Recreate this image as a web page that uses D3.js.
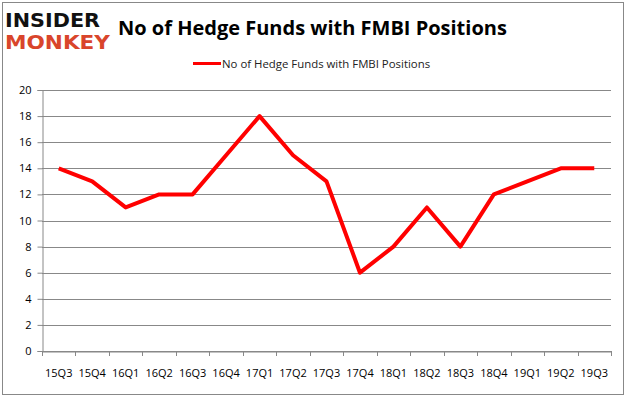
<!DOCTYPE html>
<html>
<head>
<meta charset="utf-8">
<script src="https://cdn.jsdelivr.net/npm/d3@7"></script>
<style>
  body { margin: 0; background: #fff; }
  text { font-family: "Open Sans", "DejaVu Sans", sans-serif; }
</style>
</head>
<body>
<div id="chart"></div>
<script>
// Quarter labels and hedge fund counts
const quarters = ["15Q3","15Q4","16Q1","16Q2","16Q3","16Q4","17Q1","17Q2","17Q3","17Q4","18Q1","18Q2","18Q3","18Q4","19Q1","19Q2","19Q3"];
const funds = [14,13,11,12,12,15,18,15,13,6,8,11,8,12,13,14,14];
const yTicks = [0,2,4,6,8,10,12,14,16,18,20];

const W = 626, H = 397;
const margin = {top: 90, right: 15, bottom: 46, left: 42};

const svg = d3.select("#chart").append("svg")
    .attr("width", W)
    .attr("height", H);

// outer border
svg.append("rect")
    .attr("x", 2.5).attr("y", 2.5)
    .attr("width", W - 5).attr("height", H - 5)
    .attr("fill", "none")
    .attr("stroke", "#888")
    .attr("stroke-width", 1);

const x = d3.scaleBand()
    .domain(quarters)
    .range([margin.left, W - margin.right]);

const y = d3.scaleLinear()
    .domain([0, 20])
    .range([H - margin.bottom, margin.top]);

// gridlines
svg.append("g")
    .selectAll("line")
    .data(yTicks)
    .enter().append("line")
    .attr("x1", margin.left)
    .attr("x2", W - margin.right)
    .attr("y1", d => Math.round(y(d)) + 0.5)
    .attr("y2", d => Math.round(y(d)) + 0.5)
    .attr("stroke", "#888")
    .attr("stroke-width", 1);

// y axis
const yAxis = svg.append("g")
    .attr("transform", "translate(" + (margin.left + 0.5) + ",0)")
    .call(d3.axisLeft(y).tickValues(yTicks).tickSize(5).tickPadding(6));
yAxis.select(".domain").attr("stroke", "#888");
yAxis.selectAll(".tick line").attr("stroke", "#888");
yAxis.selectAll("text").attr("font-size", 11).attr("fill", "#000")
    .style("font-family", "'Open Sans', sans-serif");

// x axis
const xAxis = svg.append("g")
    .attr("transform", "translate(0," + (Math.round(y(0)) + 0.5) + ")")
    .call(d3.axisBottom(x).tickSize(0).tickPadding(18));
xAxis.select(".domain").attr("stroke", "#888");
xAxis.selectAll("text").attr("font-size", 11).attr("fill", "#000")
    .style("font-family", "'Open Sans', sans-serif");

// x tick marks at band edges
svg.append("g")
    .selectAll("line")
    .data(quarters.concat(["end"]))
    .enter().append("line")
    .attr("x1", (d, i) => Math.round(margin.left + i * x.step()) + 0.5)
    .attr("x2", (d, i) => Math.round(margin.left + i * x.step()) + 0.5)
    .attr("y1", Math.round(y(0)))
    .attr("y2", Math.round(y(0)) + 5)
    .attr("stroke", "#888");

// the line
const line = d3.line()
    .x((d, i) => x(quarters[i]) + x.bandwidth() / 2)
    .y(d => y(d));

svg.append("path")
    .datum(funds)
    .attr("d", line)
    .attr("fill", "none")
    .attr("stroke", "#ff0000")
    .attr("stroke-width", 4)
    .attr("stroke-linejoin", "round");

// title
svg.append("text")
    .attr("x", 118)
    .attr("y", 35)
    .attr("font-size", 20)
    .attr("font-weight", "bold")
    .attr("fill", "#000")
    .text("No of Hedge Funds with FMBI Positions");

// legend
svg.append("line")
    .attr("x1", 193).attr("x2", 221)
    .attr("y1", 63.5).attr("y2", 63.5)
    .attr("stroke", "#ff0000")
    .attr("stroke-width", 3);
svg.append("text")
    .attr("x", 222)
    .attr("y", 67.5)
    .attr("font-size", 11.4)
    .attr("fill", "#222")
    .text("No of Hedge Funds with FMBI Positions");

// logo
svg.append("text")
    .attr("x", 5).attr("y", 27)
    .attr("font-size", 20)
    .attr("font-weight", "bold")
    .attr("textLength", 95)
    .attr("lengthAdjust", "spacingAndGlyphs")
    .style("font-family", "'DejaVu Sans', sans-serif")
    .attr("fill", "#111")
    .text("INSIDER");
svg.append("text")
    .attr("x", 5).attr("y", 49)
    .attr("font-size", 20)
    .attr("font-weight", "bold")
    .attr("textLength", 105)
    .attr("lengthAdjust", "spacingAndGlyphs")
    .style("font-family", "'DejaVu Sans', sans-serif")
    .attr("fill", "#d9452b")
    .text("MONKEY");
</script>
</body>
</html>
